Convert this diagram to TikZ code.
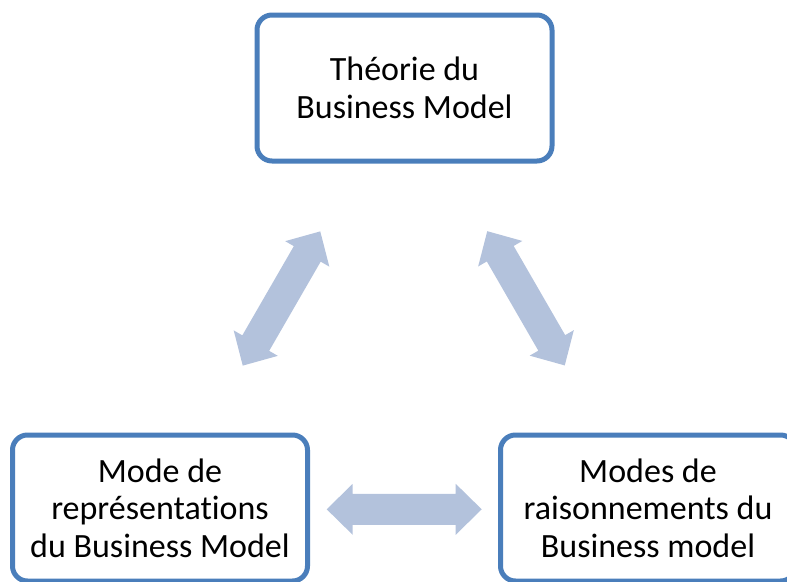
\documentclass[tikz,border=0pt]{standalone}
\usepackage{fontspec}
\setmainfont{Carlito}[Ligatures=CommonOff]
\definecolor{boxblue}{HTML}{4A7EBB}
\definecolor{arrowblue}{HTML}{B3C2DC}
\begin{document}
\begin{tikzpicture}[x=1pt,y=-1pt,
  bmbox/.style={draw=boxblue, line width=5pt, rounded corners=15pt, fill=white,
    minimum width=295pt, minimum height=146pt, inner sep=0pt, align=center,
    font=\fontsize{34}{37.5}\selectfont},
  arrowfill/.style={fill=arrowblue},
  dblarrow/.pic={
    \fill[arrowfill] (-77.5,0) -- (-51.5,25.5) -- (-51.5,15.5) -- (51.5,15.5) -- (51.5,25.5)
      -- (77.5,0) -- (51.5,-25.5) -- (51.5,-15.5) -- (-51.5,-15.5) -- (-51.5,-25.5) -- cycle;
  }]
\useasboundingbox (0,0) rectangle (787,581);
\begin{scope}
\clip (0,0) rectangle (787,581);
\node[bmbox] (theorie) at (404.5,88) {Théorie du\\Business Model};
\node[bmbox] (mode) at (160,508) {Mode de\\représentations\\du Business Model};
\node[bmbox] (modes) at (648,508) {Modes de\\raisonnements du\\Business model};
\end{scope}
\pic (a1) at (281.5,298.5) [rotate=60] {dblarrow};
\pic (a2) at (526,298.3) [rotate=-60] {dblarrow};
\pic (a3) at (404.2,509.3) {dblarrow};
\end{tikzpicture}
\end{document}
